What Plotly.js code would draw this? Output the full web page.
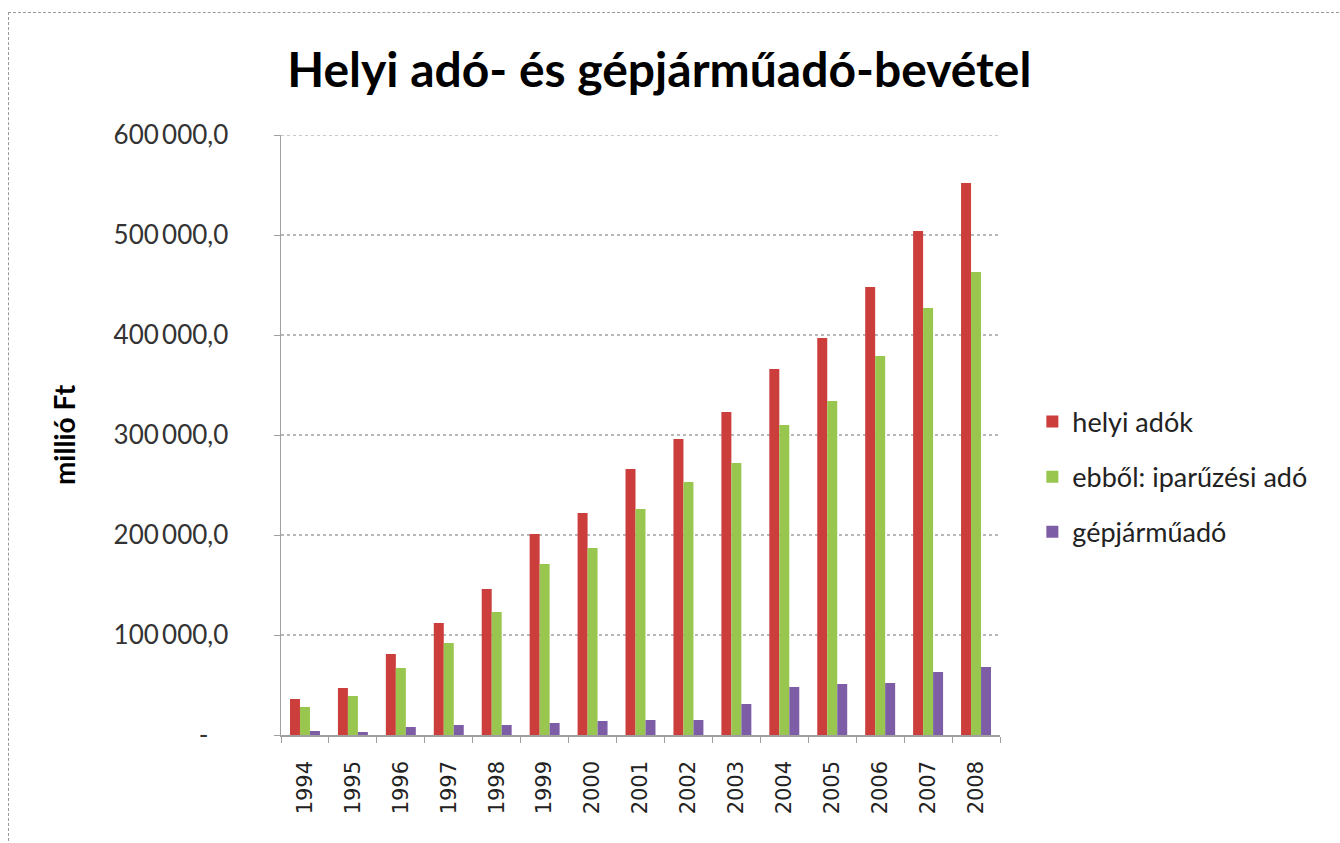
<!DOCTYPE html>
<html>
<head>
<meta charset="utf-8">
<script src="https://cdn.plot.ly/plotly-3.0.1.min.js"></script>
<style>
html,body{margin:0;padding:0;background:#fff;}
#frame{position:absolute;left:8px;top:12px;width:1340px;height:843px;border-left:1px dashed #9a9a9a;border-top:1px dashed #9a9a9a;}
#chart{position:absolute;left:0;top:0;width:1340px;height:843px;}
</style>
</head>
<body>
<div id="frame"></div>
<div id="chart"></div>
<script>
const years = ['1994','1995','1996','1997','1998','1999','2000','2001','2002','2003','2004','2005','2006','2007','2008'];
const helyiAdok = [36000, 47000, 81000, 112000, 146000, 201000, 222000, 266000, 296000, 323000, 366000, 397000, 448000, 504000, 552000];
const iparuzesiAdo = [28000, 39000, 67000, 92000, 123000, 171000, 187000, 226000, 253000, 272000, 310000, 334000, 379000, 427000, 463000];
const gepjarmuAdo = [4000, 3000, 8000, 10000, 10000, 12000, 14000, 15000, 15000, 31000, 48000, 51000, 52000, 63000, 68000];
const yTickVals = [0, 100000, 200000, 300000, 400000, 500000, 600000];
const yTickText = ['-\u00a0\u00a0\u00a0', '100\u2009000,0', '200\u2009000,0', '300\u2009000,0', '400\u2009000,0', '500\u2009000,0', '600\u2009000,0'];
const seriesNames = ['helyi adók', 'ebből: iparűzési adó', 'gépjárműadó'];
const yMax = yTickVals[yTickVals.length - 1];

const traces = [
  {type:'bar', x:years, y:helyiAdok, name:seriesNames[0], legendgroup:'a', marker:{color:'#CB3E3C'}},
  {type:'bar', x:years, y:iparuzesiAdo, name:seriesNames[1], legendgroup:'b', marker:{color:'#98C64E'}},
  {type:'bar', x:years, y:gepjarmuAdo, name:seriesNames[2], legendgroup:'c', marker:{color:'#7D5EA6'}}
];

const layout = {
  width:1340, height:843,
  paper_bgcolor:'rgba(0,0,0,0)', plot_bgcolor:'rgba(0,0,0,0)',
  margin:{l:281, r:340, t:135, b:108},
  barmode:'group', bargap:0.375, bargroupgap:0,
  title:{text:'Helyi adó- és gépjárműadó-bevétel', font:{family:'Lato, "Open Sans", sans-serif', size:48, color:'#000', weight:'bold'}, x:0.492, xref:'container', y:0.917, yref:'container', xanchor:'center', yanchor:'middle'},
  xaxis:{type:'category', tickangle:-90, tickfont:{family:'"DejaVu Sans", sans-serif', size:21, color:'#222'},
    showline:true, linecolor:'#a0a0a0', linewidth:1.5, ticks:'outside', tickson:'boundaries', ticklen:6, tickcolor:'#a0a0a0',
    showgrid:false, ticklabelstandoff:16},
  yaxis:{range:[0,yMax], tickvals:yTickVals, ticktext:yTickText,
    tickfont:{family:'Lato, "Open Sans", sans-serif', size:26, color:'#333'},
    showline:true, linecolor:'#a0a0a0', linewidth:1.5, ticks:'outside', ticklen:6, tickcolor:'#a0a0a0',
    showgrid:true, gridcolor:'#b8b8b8', gridwidth:1.3, griddash:'dot', zeroline:false, ticklabelstandoff:40,
    title:{text:'millió Ft', font:{family:'Lato, "Open Sans", sans-serif', size:28, color:'#000', weight:'bold'}, standoff:30}},
  shapes:[{type:'line', xref:'paper', x0:0, x1:1, yref:'y', y0:yMax, y1:yMax, line:{color:'#b8b8b8', width:1.3, dash:'dot'}, layer:'below'}],
  legend:{x:1.045, xanchor:'left', y:0.43, yanchor:'middle', font:{family:'Lato, "Open Sans", sans-serif', size:27, color:'#222'},
    traceorder:'grouped', tracegroupgap:17, itemwidth:30, bgcolor:'rgba(0,0,0,0)'},
  showlegend:true
};

Plotly.newPlot('chart', traces, layout, {displayModeBar:false, staticPlot:true});
</script>
</body>
</html>
